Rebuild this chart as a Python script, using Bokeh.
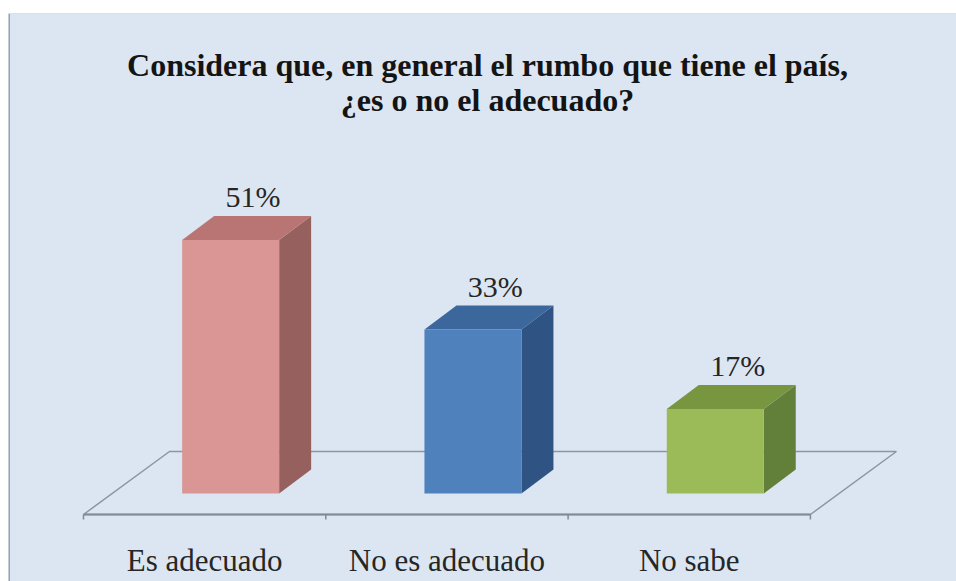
from bokeh.plotting import figure
from bokeh.models import Range1d, Span
from bokeh.core.properties import value
from bokeh.embed import file_html
from bokeh.resources import INLINE

# ---- data ----
categories = ["Es adecuado", "No es adecuado", "No sabe"]
values = [51, 33, 17]
value_labels = ["51%", "33%", "17%"]
front_colors = ["#D99694", "#4F81BD", "#9BBB59"]
top_colors = ["#B87573", "#3B679C", "#789540"]
side_colors = ["#95605E", "#2F5483", "#62803A"]
title_lines = ["Considera que, en general el rumbo que tiene el país,", "¿es o no el adecuado?"]

# ---- geometry (projection of the 3D look) ----
W, H = 956, 581
LEFT_BORDER, TOP_BORDER = 8, 13
SX = 242.3      # px per category
SY = 4.97       # px per percent
X0 = 83         # x of category 0 start
Y0 = 514        # y of floor front line

x_start = (LEFT_BORDER - X0) / SX
x_end = (W - X0) / SX
y_start = (Y0 - H) / SY
y_end = (Y0 - TOP_BORDER) / SY

floor_dx = 86 / SX
floor_dy = 63 / SY
bar_w = 97 / SX
bar_shift_x = 26 / SX
bar_base = 21 / SY
bar_dx = 32 / SX
bar_dy = 24 / SY

p = figure(width=W, height=H, output_backend="svg", toolbar_location=None,
           x_range=Range1d(x_start, x_end), y_range=Range1d(y_start, y_end),
           min_border_left=LEFT_BORDER, min_border_right=0, min_border_bottom=0,
           min_border_top=TOP_BORDER)
p.axis.visible = False
p.grid.visible = False
p.background_fill_color = "#DCE6F2"
p.border_fill_color = "white"
p.outline_line_color = None
p.add_layout(Span(location=x_start, dimension="height", line_color="#9AA3AD", line_width=3))
p.add_layout(Span(location=y_end, dimension="width", line_color="#C5CDD6", line_width=1))

n = len(categories)
# floor
fl_x = [0, n, n + floor_dx, floor_dx, 0]
fl_y = [0, 0, floor_dy, floor_dy, 0]
p.line(fl_x, fl_y, line_color="#8A96A3", line_width=1.5)
p.line([0, n], [0, 0], line_color="#7F8B98", line_width=2)
# ticks
for i in range(n + 1):
    p.line([i, i], [0, -5 / SY], line_color="#7F8B98", line_width=1.5)

# bars
front_xs, front_ys, top_xs, top_ys, side_xs, side_ys = [], [], [], [], [], []
for i, v in enumerate(values):
    cx = i + 0.5 + bar_shift_x
    l, r = cx - bar_w / 2, cx + bar_w / 2
    b, t = bar_base, bar_base + v
    front_xs.append([l, r, r, l]); front_ys.append([b, b, t, t])
    top_xs.append([l, r, r + bar_dx, l + bar_dx]); top_ys.append([t, t, t + bar_dy, t + bar_dy])
    side_xs.append([r, r + bar_dx, r + bar_dx, r]); side_ys.append([b, b + bar_dy, t + bar_dy, t])

p.patches(side_xs, side_ys, fill_color=side_colors, line_color=None)
p.patches(top_xs, top_ys, fill_color=top_colors, line_color=None)
p.patches(front_xs, front_ys, fill_color=front_colors, line_color=None)

# value labels
lab_x = [i + 0.5 + bar_shift_x + bar_dx * 0.7 for i in range(n)]
lab_y = [bar_base + v + bar_dy + 0.6 for v in values]
p.text(lab_x, lab_y, text=value_labels, text_align="center", text_baseline="bottom",
       text_font=value("Liberation Serif"), text_font_size="30px", text_color="#262626")

# category labels
cat_x = [i + 0.5 for i in range(n)]
cat_y = [-46 / SY] * n
p.text(cat_x, cat_y, text=categories, text_align="center", text_baseline="alphabetic",
       text_font=value("Liberation Serif"), text_font_size="31px", text_color="#262626")

# title
tx = (487 - X0) / SX
p.text([tx, tx], [(Y0 - 64) / SY, (Y0 - 99) / SY], text=title_lines,
       text_align="center", text_baseline="alphabetic",
       text_font=value("Liberation Serif"), text_font_style="bold",
       text_font_size="32px", text_color="#141414")

open("out.html", "w").write(file_html(p, INLINE))
